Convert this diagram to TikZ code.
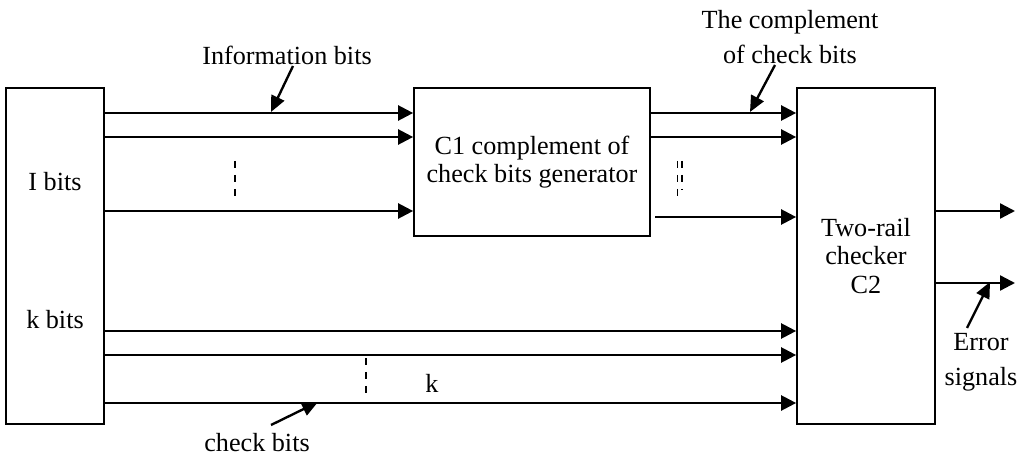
\documentclass[tikz,border=0pt]{standalone}
\usepackage{fontspec}
\setmainfont{Liberation Serif}
\usetikzlibrary{arrows.meta}
\begin{document}
\begin{tikzpicture}[x=0.02cm,y=-0.02cm,
  box/.style={draw,line width=1pt,inner sep=0pt},
  sig/.style={line width=1.35pt,-{Triangle[length=0.3cm,width=0.3cm]}},
  callout/.style={line width=1.35pt,-{Triangle[length=0.32cm,width=0.28cm]}},
  lbl/.style={font=\fontsize{14.9}{19.8}\selectfont,inner sep=0pt,align=center},
  boxtext/.style={font=\fontsize{14.9}{16.3}\selectfont,align=center},
  dots/.style={line width=1pt,dash pattern=on 0.14cm off 0.14cm}]
\useasboundingbox (0,0) rectangle (1028,459);

% functional blocks
\node[box,minimum width=1.96cm,minimum height=6.72cm] (src) at (55,256) {};
\node[box,boxtext,minimum width=4.72cm,minimum height=2.96cm] (gen) at (532,162)
  {C1 complement of\\check bits generator};
\node[box,boxtext,minimum width=2.76cm,minimum height=6.72cm] (chk) at (866,256)
  {Two-rail\\checker\\C2};

\node[lbl] (ibits) at (55,182) {I bits};
\node[lbl] (kbits) at (55,320) {k bits};

% information bits into the generator
\foreach \y in {113,137,211}
  \draw[sig] (src.east |- 0,\y) -- (gen.west |- 0,\y);

% complemented check bits into the checker
\draw[sig] (gen.east |- 0,113) -- (chk.west |- 0,113);
\draw[sig] (gen.east |- 0,137) -- (chk.west |- 0,137);
\coordinate (g3) at (655,217);
\draw[sig] (g3) -- (chk.west |- g3);

% check bits straight into the checker
\foreach \y in {331,355,403}
  \draw[sig] (src.east |- 0,\y) -- (chk.west |- 0,\y);

% error outputs
\coordinate (e1) at (1015,211);
\coordinate (e2) at (1015,283);
\draw[sig] (chk.east |- e1) -- (e1);
\draw[sig] (chk.east |- e2) -- (e2);

% elided lines
\draw[dots] (235,161) -- (235,196);
\draw[dots] (677.5,161) -- (677.5,197);
\draw[dots] (682,161) -- (682,190);
\draw[dots] (366,358) -- (366,393);
\node[lbl] (k) at (432,383) {k};

% labels with pointers
\node[lbl] (info) at (287,55) {Information bits};
\coordinate (infoT) at (293,66);
\coordinate (infoH) at (271,112);
\draw[callout] (infoT) -- (infoH);

\node[lbl] (comp) at (790,37) {The complement\\of check bits};
\coordinate (compT) at (775,65);
\coordinate (compH) at (750,112);
\draw[callout] (compT) -- (compH);

\node[lbl] (chkb) at (257,443) {check bits};
\coordinate (chkbT) at (271,425);
\coordinate (chkbH) at (318,402);
\draw[callout] (chkbT) -- (chkbH);

\node[lbl] (err) at (981,362) {Error\\signals};
\coordinate (errT) at (967,328);
\coordinate (errH) at (990,282);
\draw[callout] (errT) -- (errH);
\end{tikzpicture}
\end{document}
